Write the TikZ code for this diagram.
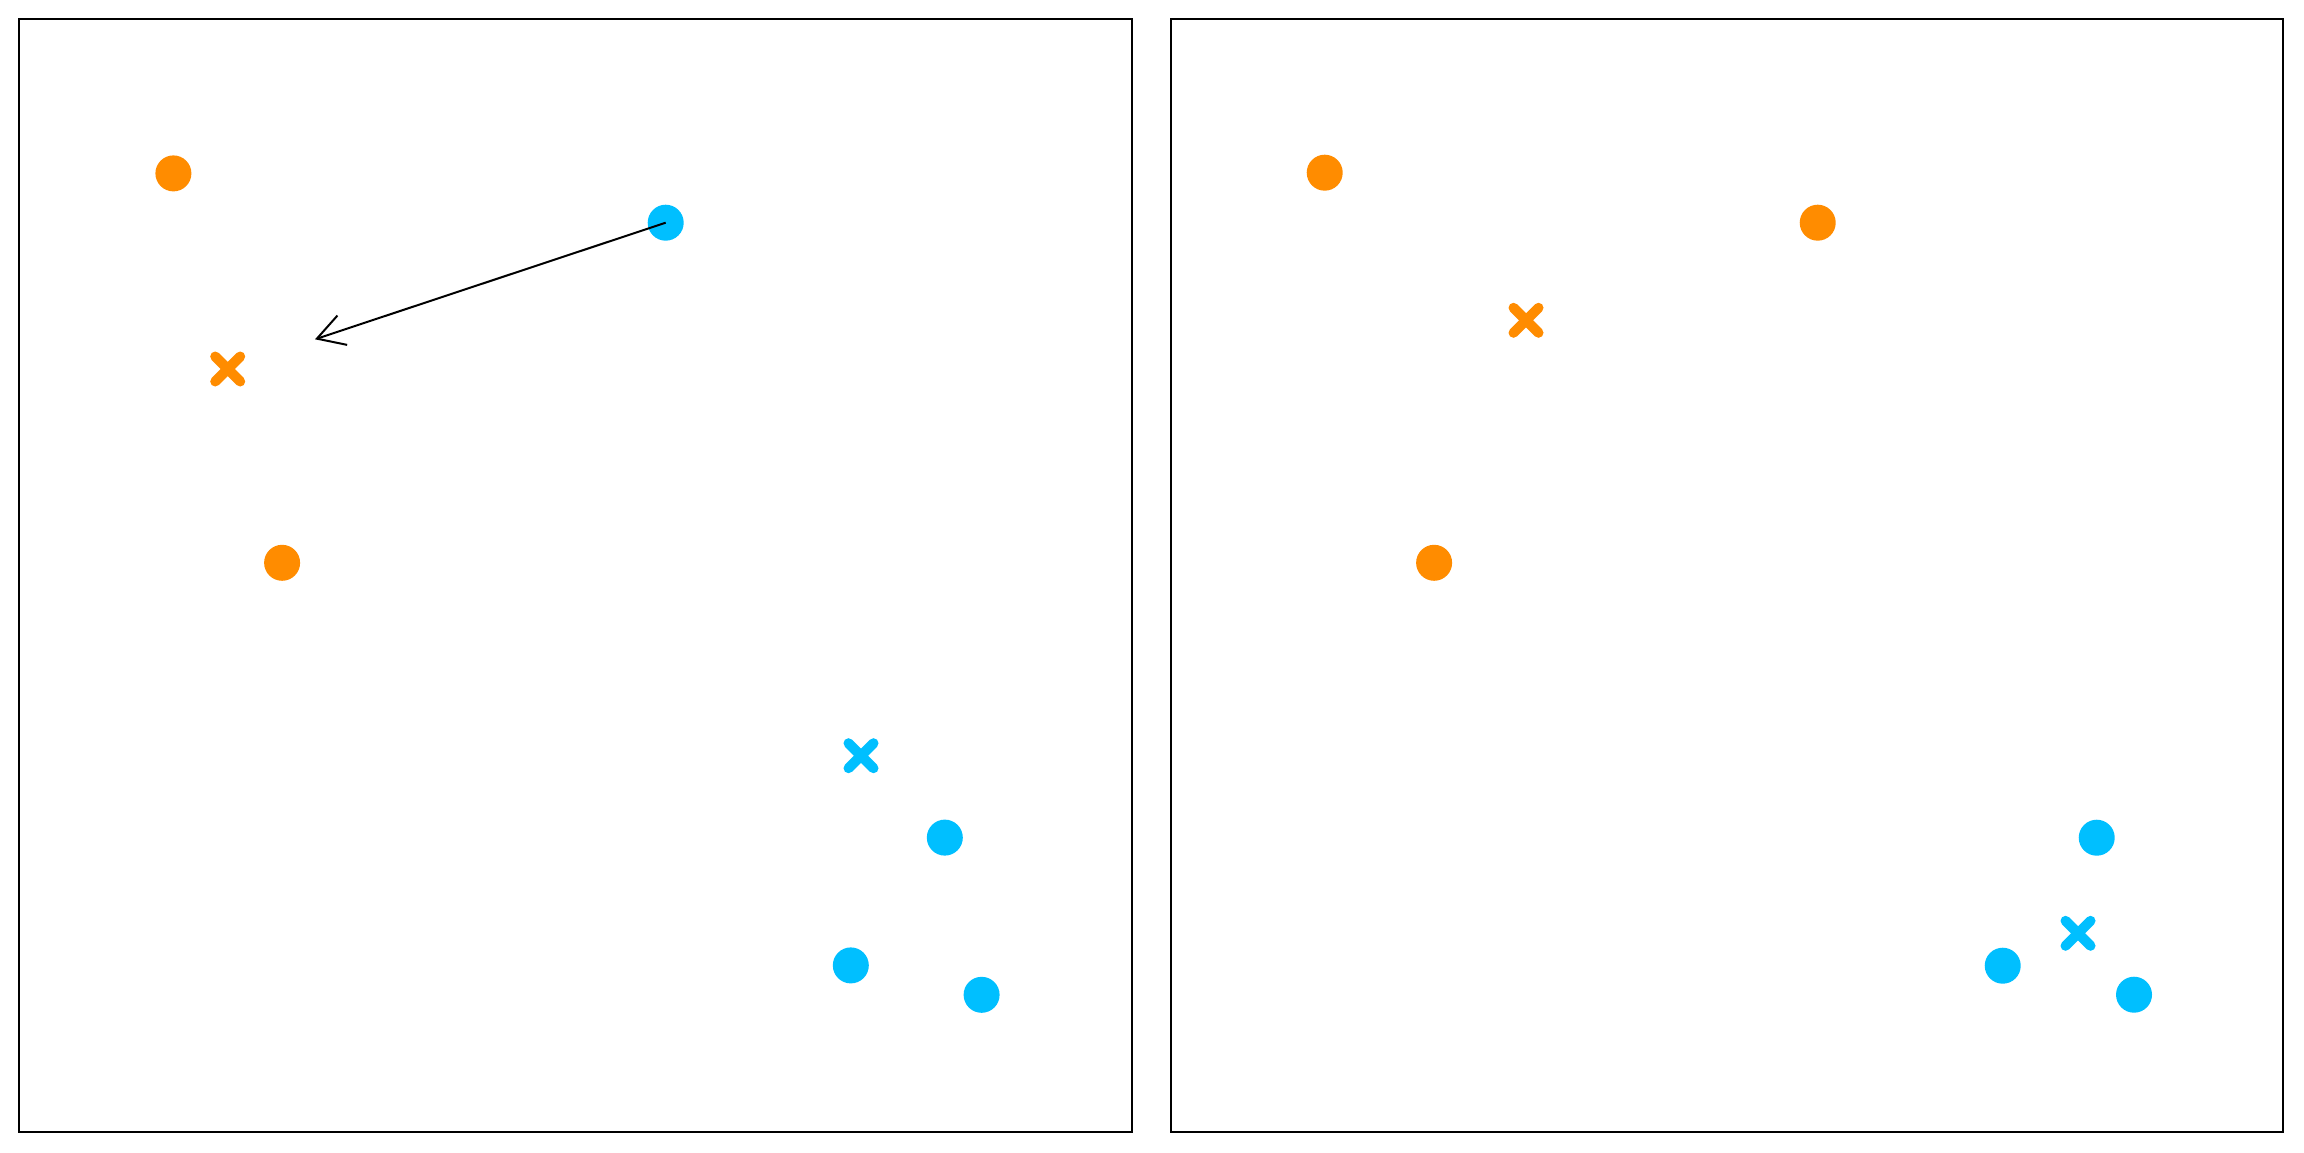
\documentclass[tikz,border=0pt]{standalone}
\usetikzlibrary{arrows.meta,calc}
\definecolor{dorange}{HTML}{FF8C00}
\definecolor{dsky}{HTML}{00BFFF}
\tikzset{
  panel/.style={draw=black, line width=0.58pt},
  dot/.style={circle, fill=#1, inner sep=0pt, minimum size=12.24pt},
  cross/.style={draw=#1, line width=3.4pt, line cap=round},
  move/.style={draw=black, line width=0.68pt, -{Straight Barb[angle=60:10.5pt]}}
}
\newcommand{\drawcross}[2]{%
  \draw[cross=#2] ($(#1)+(-12.5,-12.5)$) -- ($(#1)+(12.5,12.5)$);
  \draw[cross=#2] ($(#1)+(-12.5,12.5)$) -- ($(#1)+(12.5,-12.5)$);
}
\begin{document}
\begin{tikzpicture}[x=0.34pt, y=-0.34pt]
\useasboundingbox (0,0) rectangle (2304,1152);
\fill[white] (0,0) rectangle (2304,1152);
% panels
\draw[panel] (19,19) rectangle (1131.7,1132);
\draw[panel] (1171,19) rectangle (2283.3,1132);
% left panel
\node[dot=dorange] (lo1) at (173.4,173.4) {};
\node[dot=dsky] (lb1) at (665.7,222.7) {};
\node[dot=dorange] (lo2) at (282.1,562.8) {};
\node[dot=dsky] (lb2) at (944.8,837.6) {};
\node[dot=dsky] (lb3) at (850.8,965.4) {};
\node[dot=dsky] (lb4) at (981.6,994.8) {};
\coordinate (lcO) at (227.7,369);
\coordinate (lcB) at (861,755.7);
\drawcross{lcO}{dorange}
\drawcross{lcB}{dsky}
\coordinate (tip) at (315,339.3);
\draw[move] (lb1.center) -- (tip);
% right panel
\node[dot=dorange] (ro1) at (1324.7,172.7) {};
\node[dot=dorange] (ro2) at (1817.7,222.7) {};
\node[dot=dorange] (ro3) at (1434.1,562.8) {};
\node[dot=dsky] (rb1) at (2096.7,837.7) {};
\node[dot=dsky] (rb2) at (2002.7,965.7) {};
\node[dot=dsky] (rb3) at (2134,994.7) {};
\coordinate (rcO) at (1526,320.3);
\coordinate (rcB) at (2078,933.3);
\drawcross{rcO}{dorange}
\drawcross{rcB}{dsky}
\end{tikzpicture}
\end{document}
